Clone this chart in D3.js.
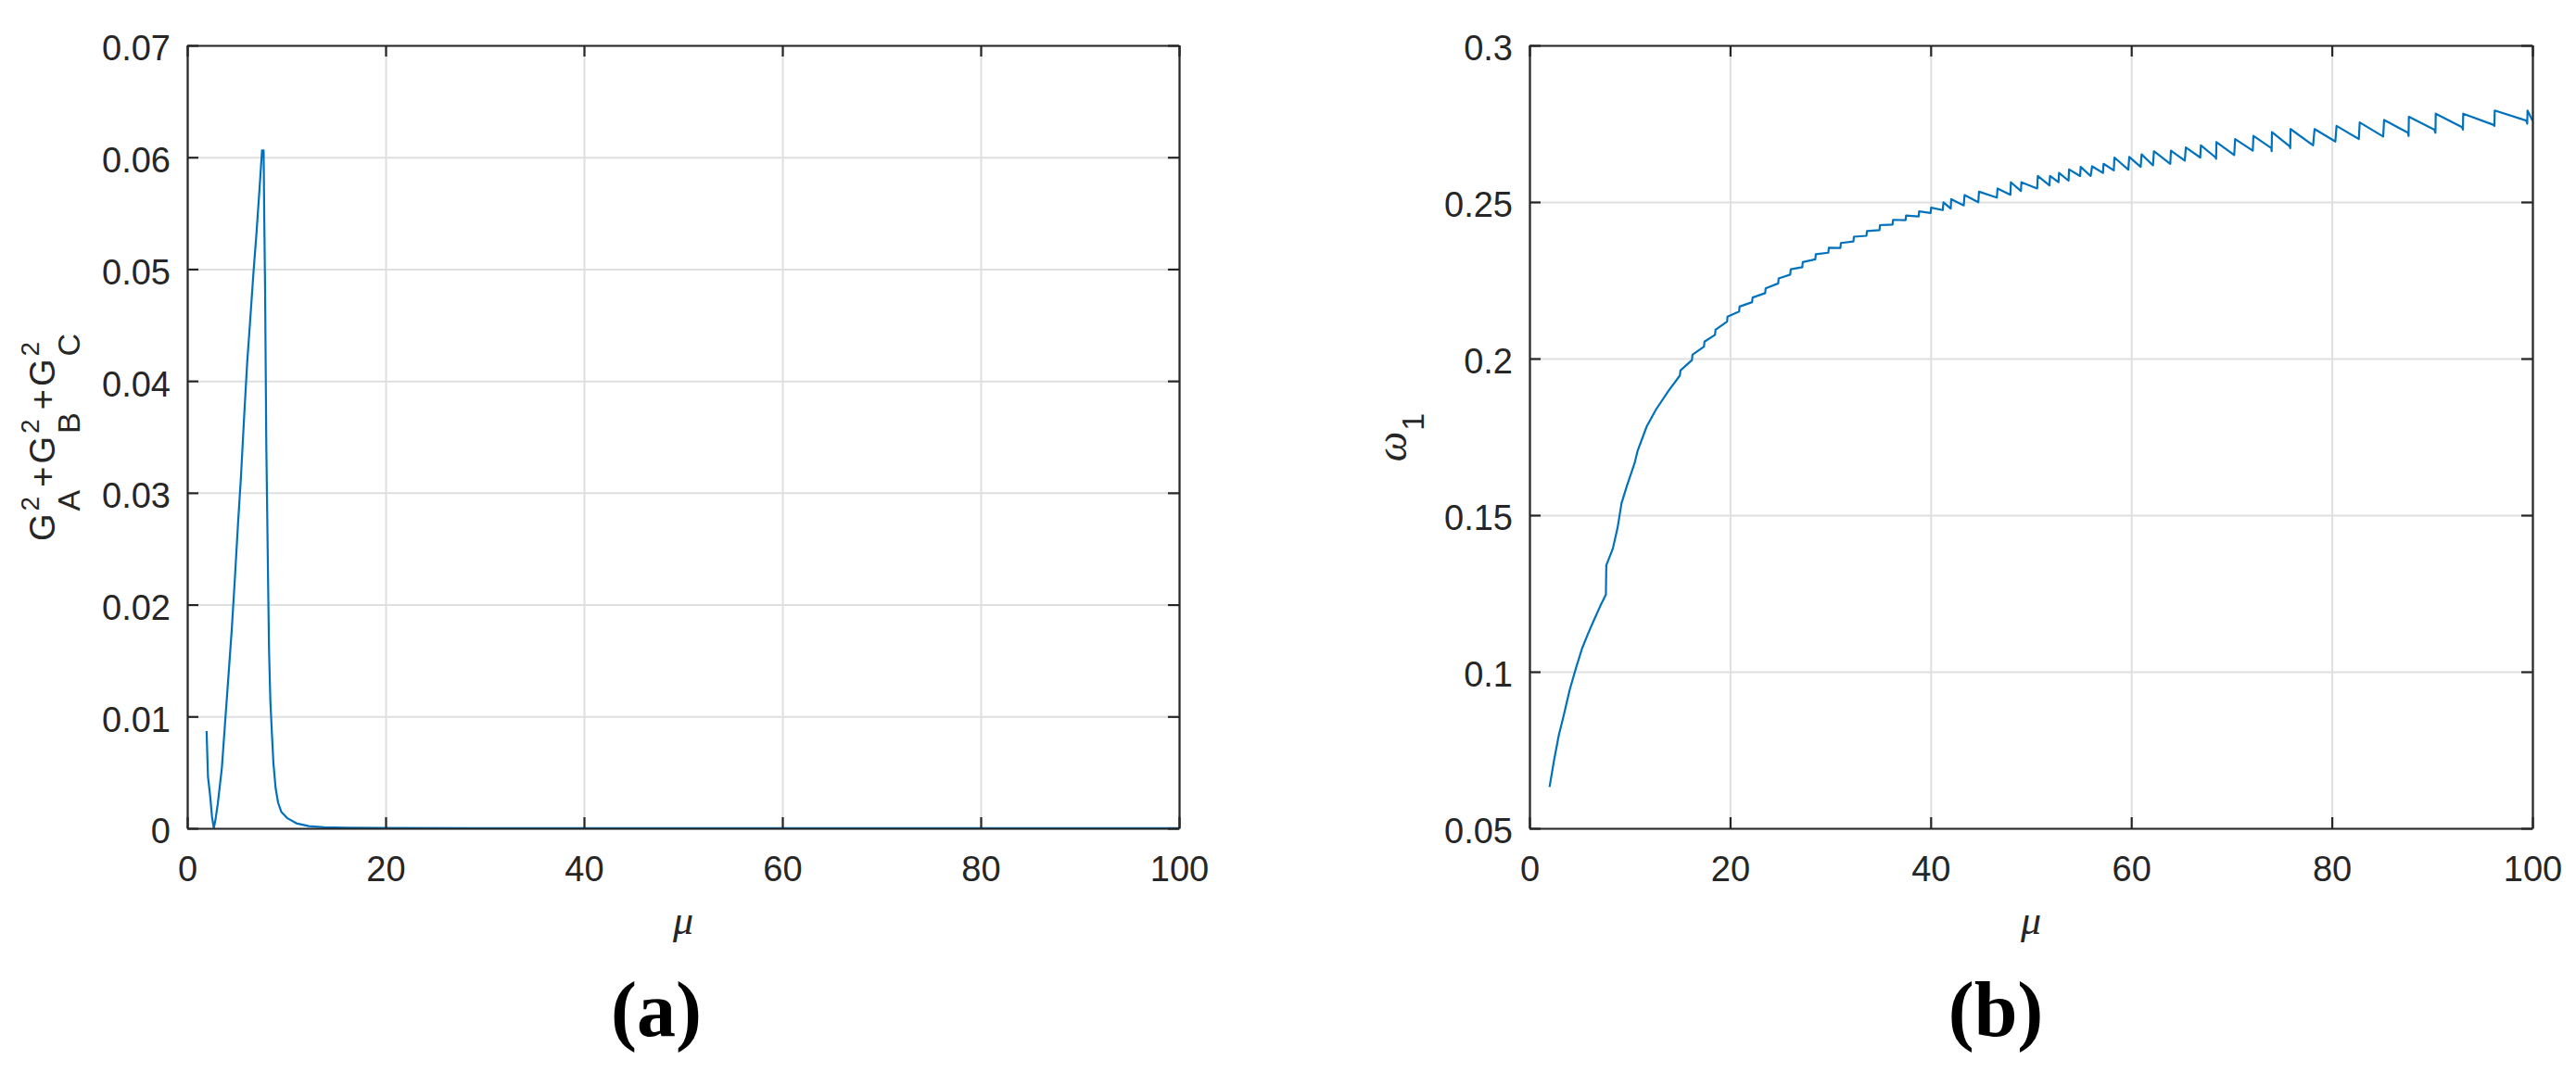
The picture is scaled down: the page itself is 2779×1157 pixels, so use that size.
<!DOCTYPE html>
<html>
<head>
<meta charset="utf-8">
<script src="https://cdn.jsdelivr.net/npm/d3@7"></script>
<style>
body { margin: 0; background: #fff; }
svg { display: block; }
.tick text { font-family: "Liberation Sans", Arial, Helvetica, sans-serif; fill: #262626; }
</style>
</head>
<body>
<div id="container"></div>
<script>
// ---- panel (a): G_A^2+G_B^2+G_C^2 against mu
var muA = [1.95, 2.09, 2.3, 2.5, 2.68, 2.85, 3.08, 3.49, 3.86, 4.17, 4.49, 4.8, 5.11, 5.42, 5.73,
	6.04, 6.36, 6.67, 6.98, 7.29, 7.54, 7.7, 7.76, 7.85, 7.91, 7.97, 8.07, 8.16, 8.25, 8.38, 8.53,
	8.69, 8.91, 9.16, 9.47, 10.1, 11.0, 12.25, 13.8, 16, 20, 30, 40, 50, 60, 70, 80, 90, 100];
var sumG = [0.0087, 0.0046, 0.003, 0.001, 0, 0.0008, 0.0022, 0.0054, 0.010, 0.0138, 0.0178, 0.0223, 0.0271, 0.0315, 0.0367,
	0.0416, 0.0456, 0.0496, 0.0532, 0.0572, 0.0606, 0.0606, 0.055, 0.0482, 0.0412, 0.0343, 0.0277, 0.0215, 0.0158, 0.0114, 0.0086,
	0.0058, 0.0036, 0.0023, 0.0015, 0.0009, 0.00045, 0.0002, 0.0001, 0.00005, 0.00003, 0.00002, 0.00001, 0.00001, 0.00001, 0.00001, 0.00001, 0.00001, 0.00001];

// ---- panel (b): omega_1 against mu
var muB = [2.0, 2.46, 2.93, 3.39, 4.0, 4.62, 5.24, 5.86, 6.47, 7.09, 7.62, 7.66, 8.32, 8.78, 9.18, 9.7, 10.48,
	10.78, 11.7, 12.63, 13.86, 15.0, 15.05, 16.2, 16.25, 17.4, 17.45, 18.5, 18.55, 19.7, 19.75, 20.9, 20.95,
	22.2, 22.25, 23.5, 23.55, 24.8, 24.85, 26.0, 26.05, 27.2, 27.25, 28.5, 28.55, 29.8, 29.85, 31.0, 31.05,
	32.3, 32.35, 33.6, 33.65, 34.9, 34.95, 36.2, 36.25, 37.5, 37.55, 38.8, 38.85, 40.0, 40.05,
	41.2, 41.28, 42.0, 42.05, 43.3, 43.38, 44.75, 44.82, 46.6, 46.67, 47.95, 48.0, 49.0, 49.05,
	50.62, 50.68, 51.85, 51.9, 52.75, 52.8, 53.75, 53.8,
	54.9, 54.96, 55.95, 56.1, 57.18, 57.24, 58.26, 58.32, 59.71, 59.8, 60.94, 61.03, 62.17, 62.26,
	63.89, 63.96, 65.34, 65.44, 66.88, 66.94, 68.42, 68.46, 68.49, 70.27, 70.36, 72.12, 72.18, 73.97, 74.0, 74.03,
	75.82, 75.85, 75.88, 78.13, 78.28, 80.35, 80.47, 82.69, 82.78, 85.12, 85.21, 87.59, 87.65, 87.68,
	90.23, 90.33, 90.36, 92.98, 93.07, 93.1, 96.15, 96.21, 96.24, 99.38, 99.48, 99.51, 100];
var omega1 = [0.0632, 0.0719, 0.0798, 0.0857, 0.0941, 0.1010, 0.1074, 0.1123, 0.1168, 0.1212, 0.1246, 0.1340, 0.1394, 0.1459, 0.1538, 0.1592, 0.1666,
	0.1705, 0.1784, 0.1838, 0.1897, 0.1946, 0.1962, 0.1995, 0.2012, 0.2038, 0.2054, 0.2076, 0.2092, 0.2118, 0.2134, 0.2150, 0.2166,
	0.2180, 0.2195, 0.2209, 0.2224, 0.2240, 0.2256, 0.2268, 0.2285, 0.2292, 0.2308, 0.2317, 0.2333, 0.2338, 0.2354, 0.2353, 0.2369,
	0.2374, 0.2389, 0.2392, 0.2407, 0.2410, 0.2426, 0.2428, 0.2443, 0.2442, 0.2457, 0.2454, 0.2470, 0.2465, 0.2482,
	0.2474, 0.2499, 0.2479, 0.2509, 0.2489, 0.2522, 0.2499, 0.2533, 0.2514, 0.2543, 0.2523, 0.2563, 0.2535, 0.2563,
	0.2543, 0.2583, 0.2553, 0.2583, 0.2563, 0.2593, 0.2568, 0.2604,
	0.2583, 0.2612, 0.2583, 0.2614, 0.2593, 0.2622, 0.2601, 0.2642, 0.2603, 0.2644, 0.2612, 0.2652, 0.2617, 0.2662,
	0.2622, 0.2664, 0.2632, 0.2674, 0.2642, 0.2681, 0.2642, 0.2638, 0.2691, 0.2650, 0.2701, 0.2664, 0.2711, 0.2672, 0.2662, 0.2723,
	0.2677, 0.2672, 0.2733, 0.2681, 0.2733, 0.2693, 0.2743, 0.2701, 0.2754, 0.2709, 0.2762, 0.2721, 0.2711, 0.2772,
	0.2731, 0.2721, 0.2782, 0.2739, 0.2731, 0.2782, 0.2746, 0.2743, 0.2792, 0.2760, 0.2750, 0.2792, 0.2760];

// ---- ticks
var xTicks = [0, 20, 40, 60, 80, 100];
var xTickLabels = ["0", "20", "40", "60", "80", "100"];
var yTicksA = [0, 0.01, 0.02, 0.03, 0.04, 0.05, 0.06, 0.07];
var yTickLabelsA = ["0", "0.01", "0.02", "0.03", "0.04", "0.05", "0.06", "0.07"];
var yTicksB = [0.05, 0.1, 0.15, 0.2, 0.25, 0.3];
var yTickLabelsB = ["0.05", "0.1", "0.15", "0.2", "0.25", "0.3"];

var config = {
	width: 2779, height: 1157,
	ink: "#262626", grid: "#dfdfdf", line: "#0072bd",
	tickFont: 38, tickLen: 12,
	top: 49, bottom: 894
};

var svg = d3.select("#container").append("svg")
		.attr("width", config.width)
		.attr("height", config.height);

function drawPanel(opts) {
	var x = d3.scaleLinear().domain([0, 100]).range([opts.left, opts.right]);
	var y = d3.scaleLinear().domain(opts.yDomain).range([config.bottom, config.top]);
	var g = svg.append("g");
	var h = config.bottom - config.top, w = opts.right - opts.left;

	// grid
	g.append("g").attr("transform", "translate(0," + config.bottom + ")")
		.call(d3.axisBottom(x).tickValues(xTicks).tickSize(-h).tickFormat(""))
		.call(function(a) { a.select(".domain").remove(); a.selectAll("line").attr("stroke", config.grid).attr("stroke-width", 2); });
	g.append("g").attr("transform", "translate(" + opts.left + ",0)")
		.call(d3.axisLeft(y).tickValues(opts.yTicks).tickSize(-w).tickFormat(""))
		.call(function(a) { a.select(".domain").remove(); a.selectAll("line").attr("stroke", config.grid).attr("stroke-width", 2); });

	// data
	var pts = opts.xs.map(function(d, i) { return [d, opts.ys[i]]; });
	g.append("path")
		.datum(pts)
		.attr("fill", "none")
		.attr("stroke", config.line)
		.attr("stroke-width", 2.2)
		.attr("stroke-linejoin", "round")
		.attr("d", d3.line().x(function(d) { return x(d[0]); }).y(function(d) { return y(d[1]); }));

	// axes with inward ticks on all four sides
	function styleAxis(a) {
		a.select(".domain").attr("stroke", config.ink).attr("stroke-width", 2.2);
		a.selectAll(".tick line").attr("stroke", config.ink).attr("stroke-width", 2.2);
		a.selectAll(".tick text").style("font-size", config.tickFont + "px");
	}
	g.append("g").attr("transform", "translate(0," + config.bottom + ")")
		.call(d3.axisBottom(x).tickValues(xTicks).tickSizeInner(-config.tickLen).tickSizeOuter(0).tickPadding(30)
			.tickFormat(function(d, i) { return xTickLabels[i]; }))
		.call(styleAxis);
	g.append("g").attr("transform", "translate(0," + config.top + ")")
		.call(d3.axisTop(x).tickValues(xTicks).tickSizeInner(-config.tickLen).tickSizeOuter(0).tickFormat(""))
		.call(styleAxis);
	var yl = g.append("g").attr("transform", "translate(" + opts.left + ",0)")
		.call(d3.axisLeft(y).tickValues(opts.yTicks).tickSizeInner(-config.tickLen).tickSizeOuter(0).tickPadding(18)
			.tickFormat(function(d, i) { return opts.yLabels[i]; }))
		.call(styleAxis);
	yl.selectAll(".tick text").attr("dy", "0.42em");
	g.append("g").attr("transform", "translate(" + opts.right + ",0)")
		.call(d3.axisRight(y).tickValues(opts.yTicks).tickSizeInner(-config.tickLen).tickSizeOuter(0).tickFormat(""))
		.call(styleAxis);

	// x label
	g.append("text")
		.attr("x", (opts.left + opts.right) / 2)
		.attr("y", 1008)
		.attr("text-anchor", "middle")
		.style("font-family", "'Liberation Serif', 'Times New Roman', serif")
		.style("font-style", "italic")
		.style("font-size", "44px")
		.attr("fill", config.ink)
		.text("\u03bc");

	// panel tag
	g.append("text")
		.attr("x", opts.tagX)
		.attr("y", 1118)
		.attr("text-anchor", "middle")
		.style("font-family", "'Liberation Serif', 'Times New Roman', serif")
		.style("font-weight", "bold")
		.style("font-size", "84px")
		.attr("fill", "#000")
		.text(opts.tag);
	return g;
}

// lays out a tex-like label along a rotated baseline, centred on 0
function drawTexLabel(g, pieces, cfg) {
	var cursor = 0;
	pieces.forEach(function(p, i) {
		if (p.base) {
			var t = g.append("text").attr("x", cursor).attr("y", 0)
				.style("font-size", cfg.main + "px").style("font-family", p.family || cfg.family)
				.style("font-style", p.italic ? "italic" : "normal").text(p.base);
			cursor += t.node().getComputedTextLength();
		} else {
			var wide = 0;
			if (p.sup) {
				var s = g.append("text").attr("x", cursor).attr("y", cfg.supShift)
					.style("font-size", cfg.sup + "px").style("font-family", cfg.family).text(p.sup);
				wide = Math.max(wide, s.node().getComputedTextLength());
			}
			if (p.sub) {
				var b = g.append("text").attr("x", cursor).attr("y", cfg.subShift)
					.style("font-size", cfg.subSize + "px").style("font-family", cfg.family).text(p.sub);
				wide = Math.max(wide, b.node().getComputedTextLength());
			}
			cursor += wide;
		}
		if (i < pieces.length - 1) cursor += cfg.gap;
	});
	g.selectAll("text").attr("fill", config.ink).attr("transform", "translate(" + (-cursor / 2) + ",0)");
}

drawPanel({ left: 202, right: 1272, yDomain: [0, 0.07], yTicks: yTicksA, yLabels: yTickLabelsA,
	xs: muA, ys: sumG, tag: "(a)", tagX: 708 });
drawPanel({ left: 1650, right: 2732, yDomain: [0.05, 0.3], yTicks: yTicksB, yLabels: yTickLabelsB,
	xs: muB, ys: omega1, tag: "(b)", tagX: 2153 });

var sans = "'Liberation Sans', Arial, Helvetica, sans-serif";
drawTexLabel(svg.append("g").attr("transform", "translate(59,472) rotate(-90)"),
	[{base: "G"}, {sup: "2", sub: "A"}, {base: "+"}, {base: "G"}, {sup: "2", sub: "B"},
	 {base: "+"}, {base: "G"}, {sup: "2", sub: "C"}],
	{ main: 38, sup: 28, subSize: 34, supShift: -17, subShift: 27, gap: 3, family: sans });

drawTexLabel(svg.append("g").attr("transform", "translate(1517,472) rotate(-90)"),
	[{base: "\u03c9", italic: true, family: "'Liberation Serif', 'Times New Roman', serif"}, {sub: "1"}],
	{ main: 46, sup: 28, subSize: 34, supShift: -16, subShift: 19, gap: 1, family: sans });
</script>
</body>
</html>
